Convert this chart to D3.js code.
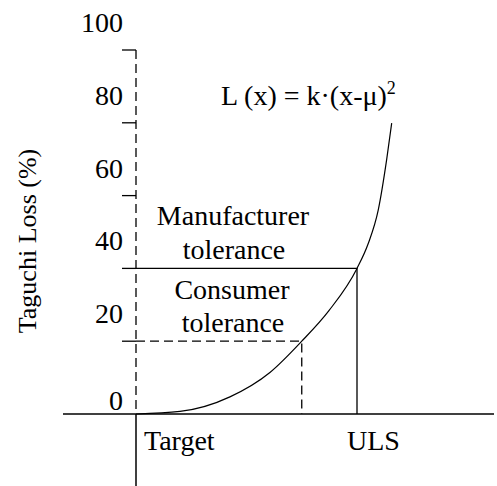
<!DOCTYPE html>
<html>
<head>
<meta charset="UTF-8">
<script src="https://d3js.org/d3.v7.min.js"></script>
</head>
<body style="margin:0">
<script>
  // tick values on the loss axis (%)
  const yTicks = [0, 20, 40, 60, 80, 100];

  // loss curve, x in units where Target = 0 and ULS = 100
  const curveX = [0, 19.9, 42.5, 60.6, 75, 87.3, 100, 105, 109.6, 113.4, 115.7];
  const curveY = [0, 0.7, 4.7, 11.4, 20, 28.4, 40, 46.7, 56, 69.8, 79.9];

  // tolerance limits
  const consumerX = 75, consumerY = 20;
  const manufX = 100, manufY = 40;

  const width = 497, height = 486;

  const svg = d3.select("body").append("svg")
    .attr("width", width).attr("height", height);

  const x = d3.scaleLinear().domain([0, 100]).range([136, 357]);
  const y = d3.scaleLinear().domain([0, 100]).range([414, 50]);

  function setFont(sel, size) {
    return sel.attr("style", "font-family:'Liberation Serif';font-size:" + size + "px");
  }

  // x axis line
  svg.append("line")
    .attr("x1", 63).attr("x2", 494)
    .attr("y1", y(0)).attr("y2", y(0))
    .attr("stroke", "#000").attr("stroke-width", 1.5);

  // y axis: dashed above zero, solid below
  svg.append("line")
    .attr("x1", x(0)).attr("x2", x(0))
    .attr("y1", y(100)).attr("y2", y(0))
    .attr("stroke", "#000").attr("stroke-width", 1.3)
    .attr("stroke-dasharray", "9,5");
  svg.append("line")
    .attr("x1", x(0)).attr("x2", x(0))
    .attr("y1", y(0)).attr("y2", height)
    .attr("stroke", "#000").attr("stroke-width", 1.5);

  // ticks and labels
  svg.selectAll(".tick").data(yTicks.filter(d => d > 0)).enter()
    .append("line")
    .attr("x1", x(0) - 14).attr("x2", x(0))
    .attr("y1", d => y(d)).attr("y2", d => y(d))
    .attr("stroke", "#000").attr("stroke-width", 1.3);

  setFont(svg.selectAll(".tlabel").data(yTicks).enter()
    .append("text")
    .attr("x", 123)
    .attr("y", d => y(d) - (d === 0 ? 4 : 18))
    .attr("text-anchor", "end"), 28)
    .text(d => d);

  // axis title
  setFont(svg.append("text")
    .attr("transform", "translate(36,241) rotate(-90)")
    .attr("text-anchor", "middle"), 26)
    .text("Taguchi Loss (%)");

  // manufacturer tolerance (solid)
  svg.append("path")
    .attr("d", d3.line()([[x(0), y(manufY)], [x(manufX), y(manufY)], [x(manufX), y(0)]]))
    .attr("fill", "none").attr("stroke", "#000").attr("stroke-width", 1.3);

  // consumer tolerance (dashed)
  svg.append("path")
    .attr("d", d3.line()([[x(0), y(consumerY)], [x(consumerX), y(consumerY)], [x(consumerX), y(0)]]))
    .attr("fill", "none").attr("stroke", "#000").attr("stroke-width", 1.3)
    .attr("stroke-dasharray", "9,5");

  // loss curve
  const pts = curveX.map((d, i) => [d, curveY[i]]);
  svg.append("path")
    .datum(pts)
    .attr("d", d3.line().x(d => x(d[0])).y(d => y(d[1])).curve(d3.curveMonotoneX))
    .attr("fill", "none").attr("stroke", "#000").attr("stroke-width", 1.2);

  // annotations
  function label(tx, ty, str, anchor) {
    return setFont(svg.append("text")
      .attr("x", tx).attr("y", ty)
      .attr("text-anchor", anchor || "start"), 28)
      .text(str);
  }

  const f = label(221, 105, "");
  f.append("tspan").text("L (x) = k·(x-μ)");
  f.append("tspan").attr("dy", -11).attr("style", "font-size:18px").text("2");

  label(233, 225, "Manufacturer", "middle");
  label(234, 259, "tolerance", "middle");
  label(232, 299, "Consumer", "middle");
  label(233, 332, "tolerance", "middle");

  label(x(0) + 8, 450, "Target");
  label(x(manufX) - 10, 450, "ULS");
</script>
</body>
</html>
